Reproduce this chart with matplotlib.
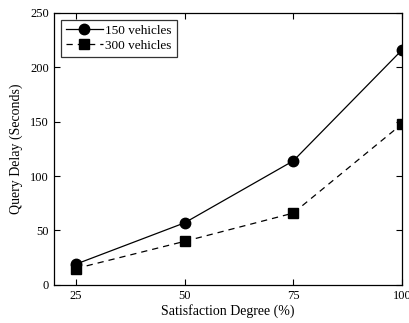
import matplotlib
matplotlib.use('Agg')
import matplotlib.pyplot as plt

plt.rcParams['font.family'] = ['Liberation Serif', 'DejaVu Serif']

satisfaction = [25, 50, 75, 100]
delay_150 = [19, 57, 114, 216]
delay_300 = [15, 40, 66, 148]

fig = plt.figure(figsize=(4.09, 3.23), dpi=100)
ax = fig.add_axes([0.132, 0.118, 0.851, 0.842])

ax.plot(satisfaction, delay_150, 'k-', marker='o', markersize=7.5, linewidth=0.9, label='150 vehicles')
ax.plot(satisfaction, delay_300, 'k--', marker='s', markersize=6.5, linewidth=0.9,
        dashes=(5, 4), label='300 vehicles')

ax.set_xlim(20, 100)
ax.set_ylim(0, 250)
ax.set_xticks(satisfaction)
ax.set_yticks([0, 50, 100, 150, 200, 250])
ax.tick_params(direction='in', top=True, right=True, labelsize=9, length=4, width=0.8)
for s in ax.spines.values():
    s.set_linewidth(0.9)

ax.set_xlabel('Satisfaction Degree (%)', fontsize=10, labelpad=2)
ax.set_ylabel('Query Delay (Seconds)', fontsize=10, labelpad=5)

leg = ax.legend(loc='upper left', fontsize=9.5, fancybox=False, edgecolor='black',
                handlelength=2.8, borderpad=0.4, labelspacing=0.2, handletextpad=0.2,
                borderaxespad=0.5)
leg.get_frame().set_linewidth(0.9)

fig.savefig('out.png', dpi=100)
